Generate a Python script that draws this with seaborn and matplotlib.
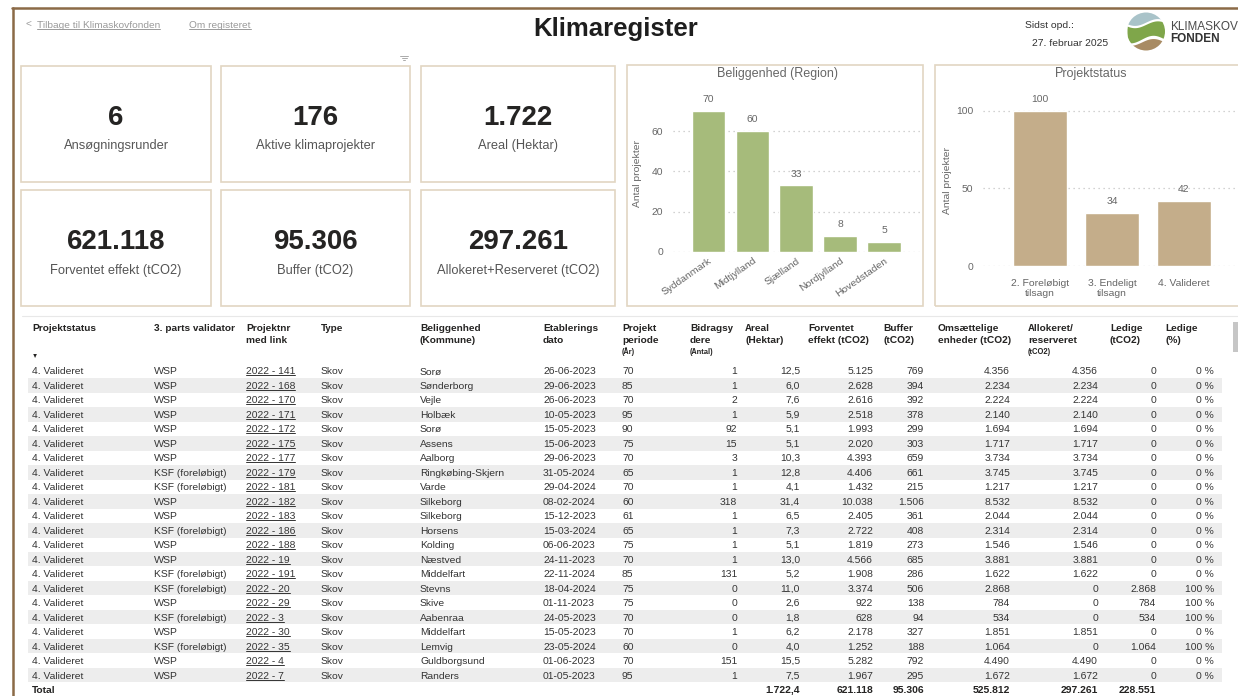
import numpy as np
import pandas as pd
import matplotlib
matplotlib.use("Agg")
import matplotlib.pyplot as plt
import seaborn as sns
from matplotlib.lines import Line2D
from matplotlib.patches import Rectangle, Circle

# ---------------- data ----------------
kpi_values = [6, 176, 1722, 621118, 95306, 297261]
kpi_labels = ["Ansøgningsrunder", "Aktive klimaprojekter", "Areal (Hektar)",
              "Forventet effekt (tCO2)", "Buffer (tCO2)", "Allokeret+Reserveret (tCO2)"]

regions = ["Syddanmark", "Midtjylland", "Sjælland", "Nordjylland", "Hovedstaden"]
region_counts = [70, 60, 33, 8, 5]

statuses = ["2. Foreløbigt\ntilsagn", "3. Endeligt\ntilsagn", "4. Valideret"]
status_counts = [100, 34, 42]

col_status = ["4. Valideret"] * 22
col_validator = ["WSP", "WSP", "WSP", "WSP", "WSP", "WSP", "WSP", "KSF (foreløbigt)",
                 "KSF (foreløbigt)", "WSP", "WSP", "KSF (foreløbigt)", "WSP", "WSP",
                 "KSF (foreløbigt)", "KSF (foreløbigt)", "WSP", "KSF (foreløbigt)", "WSP",
                 "KSF (foreløbigt)", "WSP", "WSP"]
col_projnr = ["2022 - 141", "2022 - 168", "2022 - 170", "2022 - 171", "2022 - 172",
              "2022 - 175", "2022 - 177", "2022 - 179", "2022 - 181", "2022 - 182",
              "2022 - 183", "2022 - 186", "2022 - 188", "2022 - 19", "2022 - 191",
              "2022 - 20", "2022 - 29", "2022 - 3", "2022 - 30", "2022 - 35",
              "2022 - 4", "2022 - 7"]
col_type = ["Skov"] * 22
col_kommune = ["Sorø", "Sønderborg", "Vejle", "Holbæk", "Sorø", "Assens", "Aalborg",
               "Ringkøbing-Skjern", "Varde", "Silkeborg", "Silkeborg", "Horsens", "Kolding",
               "Næstved", "Middelfart", "Stevns", "Skive", "Aabenraa", "Middelfart",
               "Lemvig", "Guldborgsund", "Randers"]
col_dato = ["26-06-2023", "29-06-2023", "26-06-2023", "10-05-2023", "15-05-2023",
            "15-06-2023", "29-06-2023", "31-05-2024", "29-04-2024", "08-02-2024",
            "15-12-2023", "15-03-2024", "06-06-2023", "24-11-2023", "22-11-2024",
            "18-04-2024", "01-11-2023", "24-05-2023", "15-05-2023", "23-05-2024",
            "01-06-2023", "01-05-2023"]
col_periode = [70, 85, 70, 95, 90, 75, 70, 65, 70, 60, 61, 65, 75, 70, 85, 75, 75, 70, 70, 60, 70, 95]
col_bidrag = [1, 1, 2, 1, 92, 15, 3, 1, 1, 318, 1, 1, 1, 1, 131, 0, 0, 0, 1, 0, 151, 1]
col_areal = [12.5, 6.0, 7.6, 5.9, 5.1, 5.1, 10.3, 12.8, 4.1, 31.4, 6.5, 7.3, 5.1, 13.0,
             5.2, 11.0, 2.6, 1.8, 6.2, 4.0, 15.5, 7.5]
col_forventet = [5125, 2628, 2616, 2518, 1993, 2020, 4393, 4406, 1432, 10038, 2405, 2722,
                 1819, 4566, 1908, 3374, 922, 628, 2178, 1252, 5282, 1967]
col_buffer = [769, 394, 392, 378, 299, 303, 659, 661, 215, 1506, 361, 408, 273, 685, 286,
              506, 138, 94, 327, 188, 792, 295]
col_omsaet = [4356, 2234, 2224, 2140, 1694, 1717, 3734, 3745, 1217, 8532, 2044, 2314, 1546,
              3881, 1622, 2868, 784, 534, 1851, 1064, 4490, 1672]
col_allok = [4356, 2234, 2224, 2140, 1694, 1717, 3734, 3745, 1217, 8532, 2044, 2314, 1546,
             3881, 1622, 0, 0, 0, 1851, 0, 4490, 1672]
col_ledige = [0] * 15 + [2868, 784, 534, 0, 1064, 0, 0]
col_ledige_pct = [0] * 15 + [100, 100, 100, 0, 100, 0, 0]

totals_areal = 1722.4
totals_ints = [621118, 95306, 525812, 297261, 228551]

headers_l1 = ["Projektstatus", "3. parts validator", "Projektnr", "Type", "Beliggenhed",
              "Etablerings", "Projekt", "Bidragsy", "Areal", "Forventet", "Buffer",
              "Omsættelige", "Allokeret/", "Ledige", "Ledige"]
headers_l2 = ["", "", "med link", "", "(Kommune)", "dato", "periode", "dere", "(Hektar)",
              "effekt (tCO2)", "(tCO2)", "enheder (tCO2)", "reserveret", "(tCO2)", "(%)"]
headers_l3 = ["", "", "", "", "", "", "(År)", "(Antal)", "", "", "", "", "(tCO2)", "", ""]


def dk_int(v):
    return f"{v:,.0f}".replace(",", ".")


def dk_dec(v):
    return f"{v:,.1f}".replace(",", "X").replace(".", ",").replace("X", ".")


# ---------------- figure ----------------
sns.set_theme(style="white")
plt.rcParams['font.family'] = ['Liberation Sans', 'DejaVu Sans']
plt.rcParams['text.hinting'] = 'native'

W, H = 1238, 696
fig = plt.figure(figsize=(W / 100, H / 100), dpi=100)
fig.patch.set_facecolor("white")


def fx(x):
    return x / W


def fy(y):
    return 1 - y / H


def axes_px(x0, y0, x1, y1):
    return fig.add_axes([x0 / W, 1 - y1 / H, (x1 - x0) / W, (y1 - y0) / H])


def rect_px(x0, y0, x1, y1, **kw):
    fig.add_artist(Rectangle((fx(x0), fy(y1)), (x1 - x0) / W, (y1 - y0) / H,
                             transform=fig.transFigure, **kw))


BROWN = "#8b6a47"
CARD = "#e2d6c2"
GRAY = "#666666"
DARK = "#252423"

# frame
fig.add_artist(Line2D([fx(12), 1], [fy(8), fy(8)], color=BROWN, lw=1.8))
fig.add_artist(Line2D([fx(13), fx(13)], [fy(8), 0], color=BROWN, lw=1.8))

# header
underlined = []
fig.text(fx(25), fy(25), "<", fontsize=7.3, color="#9a9a9a", va="center")
underlined.append(fig.text(fx(37), fy(25), "Tilbage til Klimaskovfonden", fontsize=7.3,
                           color="#9a9a9a", va="center"))
underlined.append(fig.text(fx(189), fy(25), "Om registeret", fontsize=7.3,
                           color="#9a9a9a", va="center"))
fig.text(fx(616), fy(29), "Klimaregister", fontsize=18.5, weight="bold", color="#1e1e1e",
         ha="center", va="center")
fig.text(fx(1025), fy(26), "Sidst opd.:", fontsize=7.5, color="#333333", va="center")
fig.text(fx(1032), fy(44), "27. februar 2025", fontsize=7.5, color="#333333", va="center")
fig.text(fx(1170), fy(27), "KLIMASKOV", fontsize=8.5, color="#4a4a4a", va="center")
fig.text(fx(1170), fy(39), "FONDEN", fontsize=8.5, weight="bold", color="#333333", va="center")

# logo
axL = axes_px(1127, 12, 1165, 51)
axL.set_xlim(-1, 1)
axL.set_ylim(-1, 1)
axL.set_aspect("equal")
axL.axis("off")
clip = Circle((0, 0), 1.0, transform=axL.transData)
t = np.linspace(-1, 1, 100)
bands = [(0.50 + 0.18 * np.sin(2.6 * t), 1.05, "#a9c3c9"),
         (-0.40 + 0.20 * np.sin(2.6 * t + 0.6), 0.38 + 0.18 * np.sin(2.6 * t), "#7fa64a"),
         (-1.05, -0.55 + 0.18 * np.sin(2.6 * t + 0.6), "#a88b63")]
for lo, hi, c in bands:
    pc = axL.fill_between(t, lo, hi, color=c, lw=0)
    pc.set_clip_path(clip)

# filter icon
for i, w in enumerate([8, 5, 2]):
    fig.add_artist(Line2D([fx(404 - w / 2), fx(404 + w / 2)], [fy(56 + 2 * i)] * 2,
                          color="#aaaaaa", lw=0.7))

# KPI cards
card_cols = [(21, 211), (221, 410), (421, 615)]
card_rows = [(66, 182), (190, 306)]
for k, (val, lab) in enumerate(zip(kpi_values, kpi_labels)):
    r, c = divmod(k, 3)
    x0, x1 = card_cols[c]
    y0, y1 = card_rows[r]
    rect_px(x0, y0, x1, y1, fill=False, ec=CARD, lw=1.2)
    cx = (x0 + x1) / 2
    fig.text(fx(cx), fy(y0 + 52), dk_int(val), fontsize=20, weight="bold", color=DARK,
             ha="center", va="center")
    fig.text(fx(cx), fy(y0 + 80), lab, fontsize=9.3, color="#555555", ha="center", va="center")

# chart panels
rect_px(627, 65, 923, 306, fill=False, ec=CARD, lw=1.2)
rect_px(935, 65, 1250, 306, fill=False, ec=CARD, lw=1.2)
fig.text(fx(777), fy(73), "Beliggenhed (Region)", fontsize=9, color=GRAY, ha="center", va="center")
fig.text(fx(1091), fy(73), "Projektstatus", fontsize=9, color=GRAY, ha="center", va="center")


def style_bar_ax(ax, yticks, ylabel_x):
    for s in ax.spines.values():
        s.set_visible(False)
    ax.patch.set_alpha(0)
    ax.set_yticks(yticks)
    ax.yaxis.grid(True, linestyle=(0, (1, 3)), color="#c4c4c4", lw=0.9)
    ax.xaxis.grid(False)
    ax.set_axisbelow(True)
    ax.tick_params(axis="y", length=0, pad=7, labelsize=7.5, labelcolor=GRAY)
    ax.tick_params(axis="x", length=0, labelsize=7.5, labelcolor=GRAY)
    ax.set_xlabel("")
    ax.set_ylabel("Antal projekter", fontsize=7.5, color=GRAY)
    ax.yaxis.set_label_coords(ylabel_x, 0.5)


ax1 = axes_px(673, 95, 920, 252)
sns.barplot(x=regions, y=region_counts, color="#a6bb7b", saturation=1, width=0.77, ax=ax1)
ax1.set_xlim(-0.81, 4.82)
ax1.set_ylim(0, 77.9)
style_bar_ax(ax1, [0, 20, 40, 60], -0.127)
ax1.tick_params(axis="x", pad=3)
for lbl in ax1.get_xticklabels():
    lbl.set_rotation(35)
    lbl.set_ha("right")
    lbl.set_rotation_mode("anchor")
ax1.bar_label(ax1.containers[0], padding=5, fontsize=7.5, color=GRAY)

ax2 = axes_px(983, 95, 1238, 266)
sns.barplot(x=statuses, y=status_counts, color="#c4ad8a", saturation=1, width=0.75, ax=ax2)
ax2.set_xlim(-0.79, 2.75)
ax2.set_ylim(0, 110.3)
style_bar_ax(ax2, [0, 50, 100], -0.123)
ax2.tick_params(axis="x", pad=9)
ax2.bar_label(ax2.containers[0], padding=5, fontsize=7.5, color=GRAY)

# ---------------- table ----------------
ROW0, ROWH = 371, 14.48
axT = axes_px(0, 316, W, H)
axT.set_xlim(0, W)
axT.set_ylim((H - ROW0) / ROWH, (316 - ROW0) / ROWH)
axT.axis("off")

n = len(col_status)
odd = [i for i in range(n) if i % 2 == 1]
axT.barh(odd, 1194, left=28, height=1.0, color="#ededed", lw=0)

fig.add_artist(Line2D([fx(22), 1], [fy(316.5)] * 2, color="#e8e8e8", lw=0.8))
rect_px(1233, 322, 1238, 352, color="#c6c6c6", lw=0)

BL = 0.24  # baseline offset (rows) below row centre


def row_of(ypx):
    return (ypx - ROW0) / ROWH


head_x = [32, 154, 246, 321, 420, 543, 622, 690, 745, 808, 883, 938, 1028, 1110, 1165]
for x, a, b, c in zip(head_x, headers_l1, headers_l2, headers_l3):
    axT.text(x, row_of(328) + BL, a, fontsize=7.3, weight="bold", color=DARK, va="baseline")
    if b:
        axT.text(x, row_of(340) + BL, b, fontsize=7.3, weight="bold", color=DARK, va="baseline")
    if c:
        axT.text(x, row_of(351.5) + 0.18, c, fontsize=5.5, weight="bold", color=DARK, va="baseline")
axT.text(35, row_of(357), "▼", fontsize=4.5, color=DARK, ha="center", va="center")

TXT = "#333333"
FS = 7.4
left_cols = [(col_status, 32), (col_validator, 154), (col_projnr, 246), (col_type, 321),
             (col_kommune, 420), (col_dato, 543), ([str(v) for v in col_periode], 622)]
right_cols = [([str(v) for v in col_bidrag], 737),
              ([dk_dec(v) for v in col_areal], 800),
              ([dk_int(v) for v in col_forventet], 873),
              ([dk_int(v) for v in col_buffer], 924),
              ([dk_int(v) for v in col_omsaet], 1010),
              ([dk_int(v) for v in col_allok], 1098),
              ([dk_int(v) for v in col_ledige], 1156),
              ([f"{v} %" for v in col_ledige_pct], 1214)]

for vals, x in left_cols:
    for i, v in enumerate(vals):
        t_ = axT.text(x, i + BL, v, fontsize=FS, color=TXT, va="baseline")
        if vals is col_projnr:
            underlined.append(t_)
for vals, x in right_cols:
    for i, v in enumerate(vals):
        axT.text(x, i + BL, v, fontsize=FS, color=TXT, va="baseline", ha="right")

axT.text(32, n + BL, "Total", fontsize=FS, weight="bold", color=DARK, va="baseline")
tot_strings = [dk_dec(totals_areal)] + [dk_int(v) for v in totals_ints]
for s, x in zip(tot_strings, [800, 873, 924, 1010, 1098, 1156]):
    axT.text(x, n + BL, s, fontsize=FS, weight="bold", color=DARK, va="baseline", ha="right")

# underlines
fig.canvas.draw()
inv = fig.transFigure.inverted()
for t_ in underlined:
    bb = t_.get_window_extent()
    (x0, y0), (x1, _) = inv.transform([(bb.x0, bb.y0 + 1.0), (bb.x1, bb.y0 + 1.0)])
    fig.add_artist(Line2D([x0, x1], [y0, y0], color=t_.get_color(), lw=0.7))

fig.savefig("out.png", dpi=100, facecolor="white")
